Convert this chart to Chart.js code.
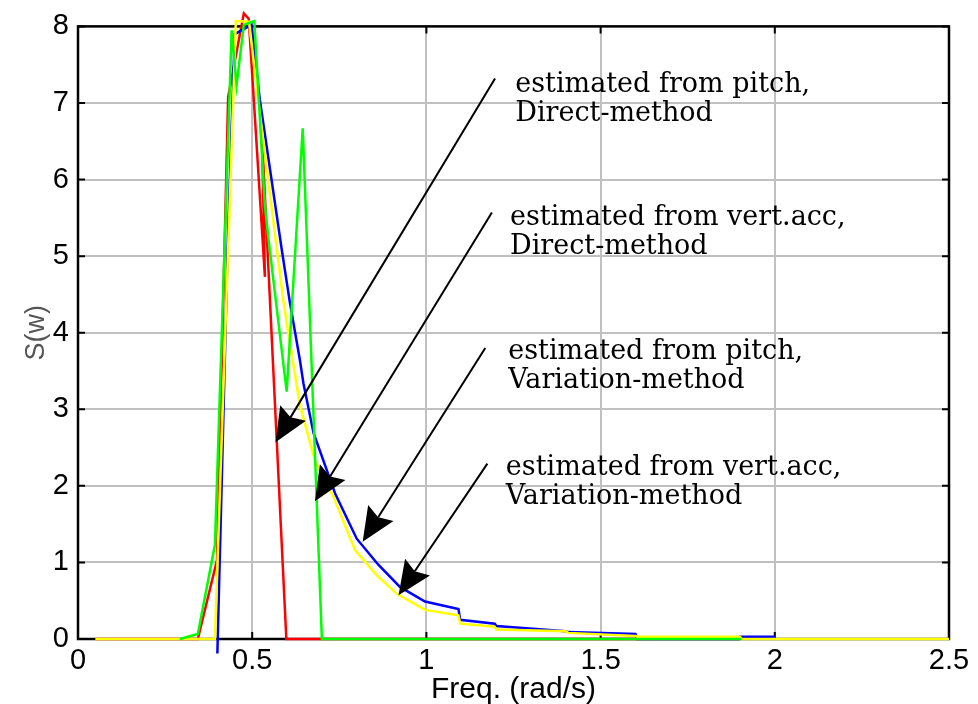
<!DOCTYPE html>
<html>
<head>
<meta charset="utf-8">
<title>S(w) spectrum</title>
<script src="https://cdn.jsdelivr.net/npm/chart.js@4.4.1/dist/chart.umd.min.js"></script>
<style>
  html, body { margin: 0; padding: 0; background: #fff; }
  #wrap { width: 978px; height: 704px; }
</style>
</head>
<body>
<div id="wrap"><canvas id="spectrum" width="978" height="704"></canvas></div>
<script>
// Axis ticks
const xTickValues = [0, 0.5, 1, 1.5, 2, 2.5];
const xTickLabels = ['0', '0.5', '1', '1.5', '2', '2.5'];
const yTickValues = [0, 1, 2, 3, 4, 5, 6, 7, 8];
const yTickLabels = ['0', '1', '2', '3', '4', '5', '6', '7', '8'];

// estimated from pitch, Direct-method (red)
const pitchDirectX = [0.05, 0.344, 0.399, 0.431, 0.476, 0.49, 0.5365, 0.528, 0.598, 1.9];
const pitchDirectY = [0, 0, 1.03, 7.08, 8.17, 8.10, 4.73, 6.58, 0, 0];

// estimated from vert.acc, Direct-method (green)
const vertDirectX = [0.292, 0.344, 0.393, 0.441, 0.455, 0.476, 0.506, 0.536, 0.546, 0.599, 0.645, 0.70, 1.904];
const vertDirectY = [0, 0.065, 1.23, 7.95, 7.23, 8.02, 8.07, 5.69, 5.25, 3.23, 6.67, 0, 0];

// estimated from pitch, Variation-method (blue)
const pitchVarX = [0.40, 0.412, 0.43, 0.45, 0.498, 0.522, 0.585, 0.608, 0.637, 0.647, 0.676, 0.738, 0.80, 0.862, 0.924, 0.996, 1.092, 1.097, 1.196, 1.201, 1.40, 1.407, 1.60, 1.605, 1.895, 1.90, 2.0];
const pitchVarY = [-0.19, 1.95, 5.2, 7.9, 8.02, 7.04, 5.08, 4.4, 3.64, 3.34, 2.69, 1.90, 1.31, 0.97, 0.68, 0.49, 0.39, 0.25, 0.20, 0.17, 0.10, 0.09, 0.065, 0, 0, 0.03, 0.03];

// estimated from vert.acc, Variation-method (yellow)
const vertVarX = [0.05, 0.393, 0.453, 0.491, 0.517, 0.589, 0.60, 0.637, 0.680, 0.733, 0.795, 0.857, 0.915, 0.996, 1.092, 1.097, 1.196, 1.201, 1.40, 1.407, 1.60, 1.605, 1.90, 1.905, 2.5];
const vertVarY = [0, 0, 8.07, 8.06, 7.04, 4.43, 4.1, 3.05, 2.33, 1.86, 1.16, 0.835, 0.59, 0.38, 0.31, 0.20, 0.16, 0.125, 0.10, 0.08, 0.04, 0.03, 0.03, 0, 0];

// Annotations (data units)
const noteLines = [
  ['estimated from pitch,', 'Direct-method'],
  ['estimated from vert.acc,', 'Direct-method'],
  ['estimated from pitch,', 'Variation-method'],
  ['estimated from vert.acc,', 'Variation-method']
];
const noteX = [1.255, 1.24, 1.235, 1.228];
const noteY = [7.23, 5.50, 3.75, 2.23];
const arrowFromX = [1.197, 1.188, 1.169, 1.175];
const arrowFromY = [7.32, 5.57, 3.80, 2.29];
const arrowToX = [0.567, 0.680, 0.817, 0.920];
const arrowToY = [2.57, 1.80, 1.27, 0.57];

const toPoints = (xs, ys) => xs.map((x, i) => ({ x: x, y: ys[i] }));

function lineSet(label, xs, ys, color, order) {
  return {
    label: label,
    data: toPoints(xs, ys),
    borderColor: color,
    backgroundColor: color,
    borderWidth: 2.5,
    pointRadius: 0,
    tension: 0,
    fill: false,
    clip: false,
    order: order
  };
}

function drawArrow(ctx, x0, y0, x1, y1) {
  const ang = Math.atan2(y1 - y0, x1 - x0);
  const c = Math.cos(ang), s = Math.sin(ang);
  const len = 34, half = 15, back = 29;
  const bx = x1 - c * len, by = y1 - s * len;
  ctx.beginPath();
  ctx.moveTo(x0, y0);
  ctx.lineTo(x1 - c * back, y1 - s * back);
  ctx.stroke();
  ctx.beginPath();
  ctx.moveTo(x1, y1);
  ctx.lineTo(bx - s * half, by + c * half);
  ctx.lineTo(x1 - c * back, y1 - s * back);
  ctx.lineTo(bx + s * half, by - c * half);
  ctx.closePath();
  ctx.fill();
}

// Box, inner ticks, arrows and notes
const frameAndNotes = {
  id: 'frameAndNotes',
  beforeDatasetsDraw(chart) {
    const { ctx, chartArea: a, scales: { x, y } } = chart;
    ctx.save();
    ctx.strokeStyle = '#000';
    ctx.lineWidth = 2;
    ctx.beginPath();
    xTickValues.forEach(v => {
      const px = x.getPixelForValue(v);
      ctx.moveTo(px, a.bottom); ctx.lineTo(px, a.bottom - 7);
      ctx.moveTo(px, a.top); ctx.lineTo(px, a.top + 7);
    });
    yTickValues.forEach(v => {
      const py = y.getPixelForValue(v);
      ctx.moveTo(a.left, py); ctx.lineTo(a.left + 7, py);
      ctx.moveTo(a.right, py); ctx.lineTo(a.right - 7, py);
    });
    ctx.stroke();
    ctx.lineWidth = 2.5;
    ctx.strokeRect(a.left, a.top, a.right - a.left, a.bottom - a.top);
    ctx.restore();
  },
  afterDatasetsDraw(chart) {
    const { ctx, scales: { x, y } } = chart;
    ctx.save();
    ctx.strokeStyle = '#000';
    ctx.fillStyle = '#000';
    ctx.lineWidth = 2;
    arrowFromX.forEach((fx, i) => {
      drawArrow(ctx,
        x.getPixelForValue(fx), y.getPixelForValue(arrowFromY[i]),
        x.getPixelForValue(arrowToX[i]), y.getPixelForValue(arrowToY[i]));
    });
    ctx.font = '27px "DejaVu Serif"';
    ctx.textAlign = 'left';
    ctx.textBaseline = 'middle';
    noteLines.forEach((lines, i) => {
      const px = x.getPixelForValue(noteX[i]);
      const py = y.getPixelForValue(noteY[i]);
      lines.forEach((t, k) => ctx.fillText(t, px, py + k * 29));
    });
    ctx.restore();
  }
};

new Chart(document.getElementById('spectrum'), {
  type: 'line',
  data: {
    datasets: [
      lineSet('estimated from vert.acc, Direct-method', vertDirectX, vertDirectY, '#00ff00', 0),
      lineSet('estimated from vert.acc, Variation-method', vertVarX, vertVarY, '#ffff00', 1),
      lineSet('estimated from pitch, Variation-method', pitchVarX, pitchVarY, '#0000ff', 2),
      lineSet('estimated from pitch, Direct-method', pitchDirectX, pitchDirectY, '#ff0000', 3)
    ]
  },
  options: {
    responsive: false,
    animation: false,
    devicePixelRatio: 1,
    layout: { padding: { top: 26, right: 29, left: 0, bottom: 0 } },
    plugins: { legend: { display: false }, tooltip: { enabled: false } },
    scales: {
      x: {
        type: 'linear',
        min: 0,
        max: 2.5,
        afterFit: s => { s.height = 65; },
        afterBuildTicks: s => { s.ticks = xTickValues.map(v => ({ value: v })); },
        grid: { color: '#c0c0c0', lineWidth: 2, drawTicks: false },
        border: { display: false },
        ticks: {
          callback: (v, i) => xTickLabels[i],
          font: { family: '"Liberation Sans", Arial, sans-serif', size: 29 },
          color: '#000',
          padding: 5,
          maxRotation: 0
        },
        title: {
          display: true,
          text: 'Freq. (rad/s)',
          color: '#000',
          font: { family: '"Liberation Sans", Arial, sans-serif', size: 30, lineHeight: 1 },
          padding: { top: 0, bottom: -1 }
        }
      },
      y: {
        type: 'linear',
        min: 0,
        max: 8,
        afterFit: s => { s.width = 78; },
        afterBuildTicks: s => { s.ticks = yTickValues.map(v => ({ value: v })); },
        grid: { color: '#c0c0c0', lineWidth: 2, drawTicks: false },
        border: { display: false },
        ticks: {
          callback: (v, i) => yTickLabels[i],
          font: { family: '"Liberation Sans", Arial, sans-serif', size: 29 },
          color: '#000',
          padding: 9
        },
        title: {
          display: true,
          text: 'S(w)',
          color: '#555',
          font: { family: '"Liberation Sans", Arial, sans-serif', size: 27, lineHeight: 1 },
          padding: { top: 23, bottom: 0 }
        }
      }
    }
  },
  plugins: [frameAndNotes]
});
</script>
</body>
</html>
